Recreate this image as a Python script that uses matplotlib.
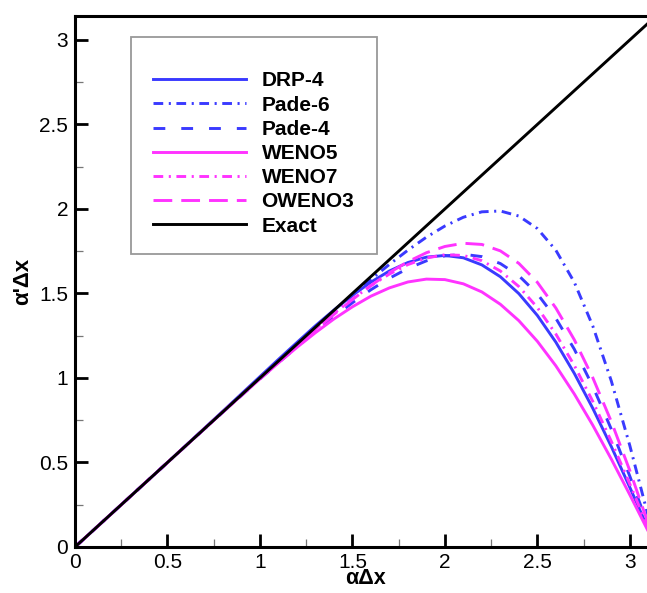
import matplotlib
matplotlib.use("Agg")
import matplotlib.pyplot as plt
from matplotlib.patches import Rectangle

plt.rcParams['font.family'] = ['Liberation Sans', 'DejaVu Sans']
plt.rcParams['lines.scale_dashes'] = False

# ---- data ----
k = [0.0, 0.5, 0.8, 1.0, 1.1, 1.2, 1.3, 1.4, 1.5, 1.6, 1.7, 1.8, 1.9, 2.0,
     2.1, 2.2, 2.3, 2.4, 2.5, 2.6, 2.7, 2.8, 2.9, 3.0, 3.1, 3.1416]

drp4 = [0.0, 0.500, 0.804, 1.008, 1.110, 1.210, 1.309, 1.402, 1.489, 1.567,
        1.633, 1.683, 1.715, 1.725, 1.711, 1.669, 1.599, 1.499, 1.370, 1.212,
        1.027, 0.820, 0.594, 0.353, 0.105, 0.0]
pade6 = [0.0, 0.500, 0.800, 1.000, 1.099, 1.198, 1.296, 1.394, 1.489, 1.583,
         1.672, 1.756, 1.833, 1.899, 1.951, 1.983, 1.988, 1.958, 1.884, 1.756,
         1.566, 1.307, 0.982, 0.600, 0.180, 0.0]
pade4 = [0.0, 0.500, 0.798, 0.994, 1.090, 1.184, 1.275, 1.362, 1.445, 1.522,
         1.590, 1.648, 1.693, 1.722, 1.732, 1.718, 1.677, 1.605, 1.498, 1.353,
         1.170, 0.950, 0.697, 0.419, 0.125, 0.0]
weno5 = [0.0, 0.500, 0.799, 0.994, 1.089, 1.181, 1.268, 1.349, 1.421, 1.484,
         1.533, 1.568, 1.585, 1.582, 1.557, 1.509, 1.436, 1.339, 1.217, 1.072,
         0.905, 0.720, 0.520, 0.309, 0.092, 0.0]
weno7 = [0.0, 0.500, 0.800, 0.999, 1.097, 1.194, 1.290, 1.381, 1.467, 1.546,
         1.615, 1.671, 1.710, 1.729, 1.725, 1.694, 1.633, 1.541, 1.417, 1.260,
         1.074, 0.861, 0.625, 0.373, 0.111, 0.0]
oweno3 = [0.0, 0.500, 0.800, 0.997, 1.094, 1.190, 1.284, 1.376, 1.464, 1.547,
          1.623, 1.688, 1.741, 1.778, 1.797, 1.790, 1.752, 1.678, 1.566, 1.414,
          1.226, 1.001, 0.742, 0.452, 0.137, 0.0]
exact_x = [0.0, 3.1416]
exact_y = [0.0, 3.1416]

labels = ['DRP-4', 'Pade-6', 'Pade-4', 'WENO5', 'WENO7', 'OWENO3', 'Exact']
xticks = [0, 0.5, 1, 1.5, 2, 2.5, 3]
xtick_labels = ['0', '0.5', '1', '1.5', '2', '2.5', '3']
yticks = [0, 0.5, 1, 1.5, 2, 2.5, 3]
ytick_labels = ['0', '0.5', '1', '1.5', '2', '2.5', '3']

# ---- figure ----
W, H = 647, 593
fig = plt.figure(figsize=(W / 100, H / 100), dpi=100)
ax = fig.add_axes([75 / W, 46 / H, 581 / W, 531 / H])

blue = '#3a3aff'
mag = '#ff33ff'
lw = 2.1
dashdot = (0, (7, 4, 1.5, 4))
dash_b = (0, (8.5, 11.5))
dash_m = (0, (13.5, 6.5))

series = [drp4, pade6, pade4, weno5, weno7, oweno3]
styles = [(blue, '-'), (blue, dashdot), (blue, dash_b),
          (mag, '-'), (mag, dashdot), (mag, dash_m)]
handles = []
for y, (c, ls), lab in zip(series, styles, labels[:6]):
    h, = ax.plot(k, y, color=c, linestyle=ls, lw=lw, label=lab)
    handles.append(h)
h, = ax.plot(exact_x, exact_y, color='black', lw=lw, label=labels[6])
handles.append(h)

ax.set_xlim(0, 3.1416)
ax.set_ylim(0, 3.1416)
ax.set_xticks(xticks)
ax.set_xticklabels(xtick_labels)
ax.set_yticks(yticks)
ax.set_yticklabels(ytick_labels)
ax.set_xticks([0.25, 0.75, 1.25, 1.75, 2.25, 2.75], minor=True)
ax.set_yticks([0.25, 0.75, 1.25, 1.75, 2.25, 2.75], minor=True)

for s in ax.spines.values():
    s.set_linewidth(2.2)
ax.tick_params(which='major', direction='in', length=9.5, width=2.0,
               labelsize=15, pad=5, top=False, right=False)
ax.tick_params(axis='x', which='major', pad=4)
ax.tick_params(which='minor', direction='in', length=6, width=0.9,
               color='#777777', top=False, right=False)

ax.set_xlabel('αΔx', fontsize=15.5, fontweight='bold', labelpad=-2.5)
ax.set_ylabel("α'Δx", fontsize=16, fontweight='bold', labelpad=4)

# legend box
fig.patches.append(Rectangle((131 / W, 1 - 254 / H), (377 - 131) / W, (254 - 37) / H,
                             transform=fig.transFigure, facecolor='white',
                             edgecolor='#999999', lw=1.3, zorder=3))
leg = fig.legend(handles=handles, labels=labels, loc='upper left',
                 bbox_to_anchor=(143 / W, 1 - 61 / H), frameon=False,
                 borderpad=0, handlelength=4.42, handletextpad=0.77,
                 labelspacing=0.25, prop={'weight': 'bold', 'size': 15})
leg.set_zorder(4)

fig.savefig('out.png', dpi=100)
